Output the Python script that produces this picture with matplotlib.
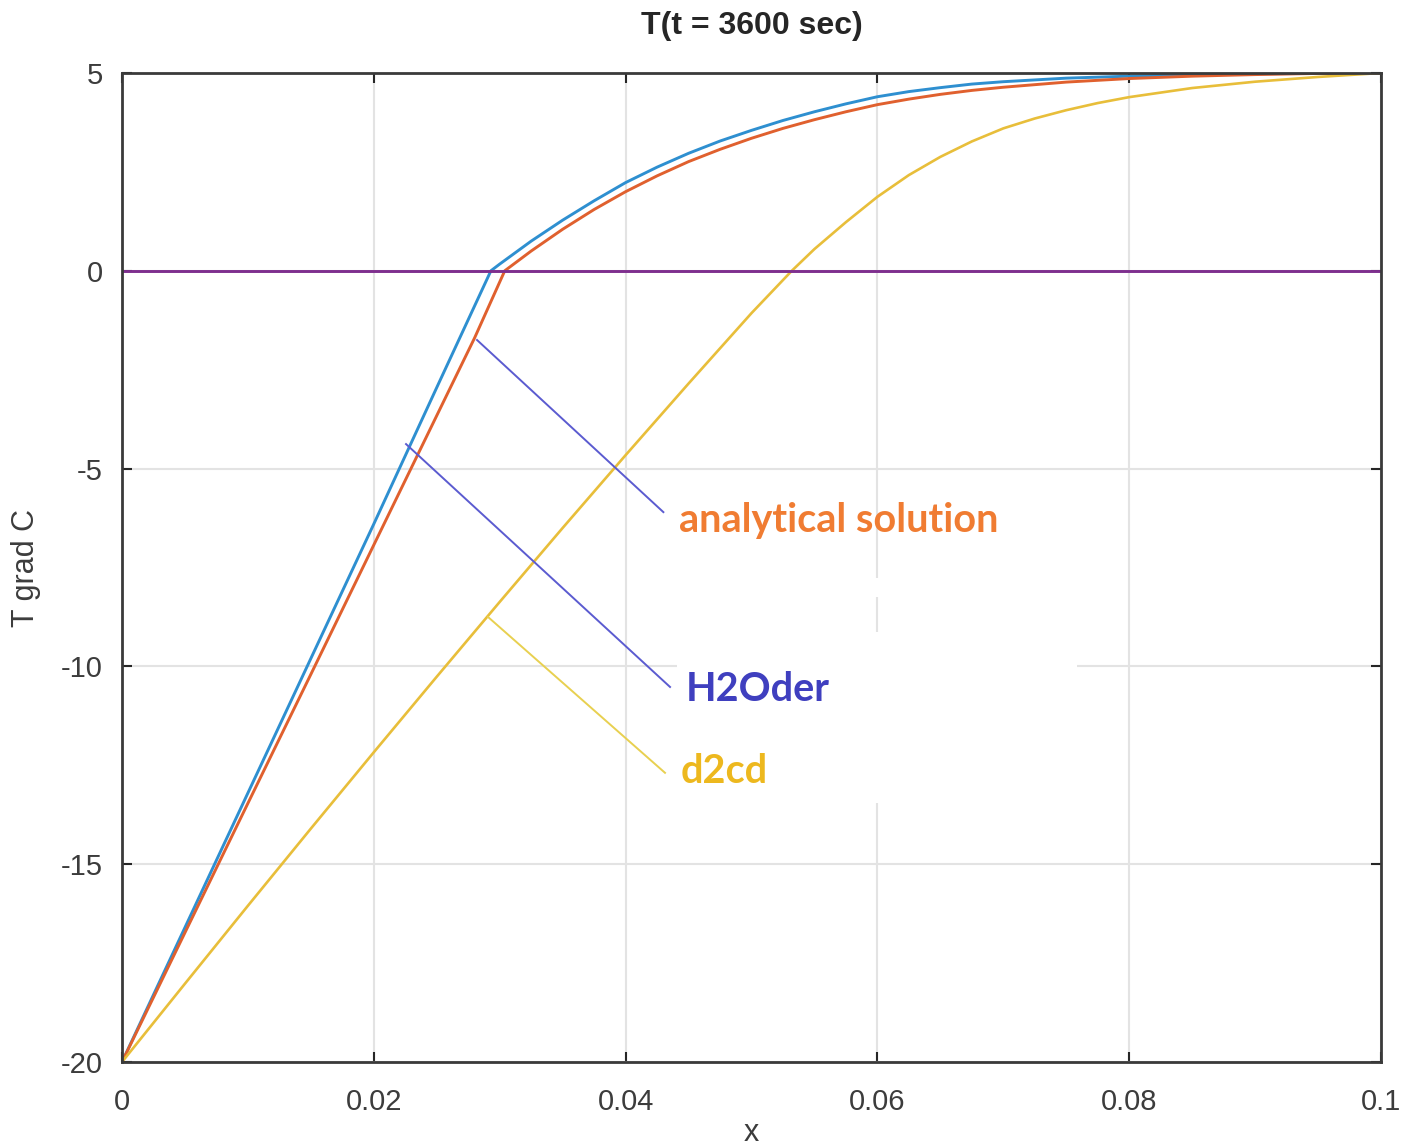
import matplotlib.pyplot as plt
from matplotlib.patches import Rectangle

plt.rcParams['axes.unicode_minus'] = False

# temperature profiles along x at t = 3600 s
x_num = [0, 0.005, 0.01, 0.015, 0.02, 0.025, 0.0293, 0.03, 0.0325, 0.035, 0.0375,
         0.04, 0.0425, 0.045, 0.0475, 0.05, 0.0525, 0.055, 0.0575, 0.06, 0.0625,
         0.065, 0.0675, 0.07, 0.075, 0.08, 0.085, 0.09, 0.095, 0.1]
T_h2oder = [-20, -16.6, -13.2, -9.8, -6.4, -2.95, 0, 0.17, 0.75, 1.28, 1.77,
            2.23, 2.62, 2.97, 3.28, 3.55, 3.8, 4.02, 4.22, 4.4, 4.53,
            4.63, 4.72, 4.78, 4.87, 4.92, 4.96, 4.98, 4.99, 5.0]

x_ana = [0, 0.005, 0.01, 0.015, 0.02, 0.025, 0.028, 0.0304, 0.0325, 0.035, 0.0375,
         0.04, 0.0425, 0.045, 0.0475, 0.05, 0.0525, 0.055, 0.0575, 0.06, 0.0625,
         0.065, 0.0675, 0.07, 0.075, 0.08, 0.085, 0.09, 0.095, 0.1]
T_ana = [-20, -16.73, -13.46, -10.2, -6.93, -3.66, -1.7, 0, 0.5, 1.05, 1.55,
         2.0, 2.4, 2.76, 3.07, 3.35, 3.6, 3.82, 4.02, 4.2, 4.34,
         4.46, 4.56, 4.64, 4.77, 4.86, 4.92, 4.96, 4.99, 5.0]

x_d2cd = [0, 0.005, 0.01, 0.015, 0.02, 0.025, 0.03, 0.035, 0.04, 0.045, 0.05,
          0.0532, 0.055, 0.0575, 0.06, 0.0625, 0.065, 0.0675, 0.07, 0.0725, 0.075,
          0.0775, 0.08, 0.085, 0.09, 0.095, 0.1]
T_d2cd = [-20, -18.02, -16.05, -14.1, -12.17, -10.26, -8.37, -6.5, -4.66, -2.85, -1.07,
          0, 0.55, 1.23, 1.87, 2.42, 2.88, 3.27, 3.6, 3.85, 4.06,
          4.24, 4.39, 4.62, 4.78, 4.9, 5.0]

x_zero = [0, 0.1]
T_zero = [0, 0]

# callout lines: (point on curve) -> (label end)
callouts = {
    "analytical solution": ([0.0282, 0.0430], [-1.75, -6.10]),
    "H2Oder": ([0.02256, 0.04353], [-4.38, -10.52]),
    "d2cd": ([0.02907, 0.04313], [-8.75, -12.69]),
}
label_pos = {
    "analytical solution": (0.04425, -6.3),
    "H2Oder": (0.04475, -10.58),
    "d2cd": (0.04435, -12.65),
}
label_color = {
    "analytical solution": "#F07C32",
    "H2Oder": "#3F3FBF",
    "d2cd": "#EDB81E",
}
line_color = {
    "analytical solution": "#5B5BD0",
    "H2Oder": "#5B5BD0",
    "d2cd": "#E8D050",
}

fig = plt.figure(figsize=(14.03, 11.48), dpi=100)
ax = fig.add_axes([0.08696, 0.07491, 0.89736, 0.8615])

ax.plot(x_num, T_h2oder, color="#2E8FD0", lw=2.1, zorder=4)
ax.plot(x_ana, T_ana, color="#E0602E", lw=2.1, zorder=4)
ax.plot(x_d2cd, T_d2cd, color="#E8BE3A", lw=1.9, zorder=4)
ax.plot(x_zero, T_zero, color="#7E2F8E", lw=2.1, zorder=4)

# pasted label area hides the grid behind it
ax.add_patch(Rectangle((0.04408, -13.45), 0.03177, 4.32, facecolor="white",
                       edgecolor="none", zorder=2))
ax.add_patch(Rectangle((0.0595, -8.25), 0.001, 0.48, facecolor="white",
                       edgecolor="none", zorder=2))

for name, (xs, ys) in callouts.items():
    ax.plot(xs, ys, color=line_color[name], lw=1.4, zorder=5)
    lx, ly = label_pos[name]
    ax.text(lx, ly, name, color=label_color[name], fontsize=28.5,
            fontweight="bold", family="Lato", va="center", ha="left", zorder=6)

ax.set_xlim(0, 0.1)
ax.set_ylim(-20, 5)
ax.set_xticks([0, 0.02, 0.04, 0.06, 0.08, 0.1])
ax.set_xticklabels(["0", "0.02", "0.04", "0.06", "0.08", "0.1"])
ax.set_yticks([-20, -15, -10, -5, 0, 5])
ax.grid(True, color="#E3E3E3", lw=1.5, zorder=1)
ax.set_axisbelow(True)

ax.tick_params(direction="in", length=7, width=1.5, colors="#262626",
               labelsize=21, labelcolor="#3C3C3C", top=True, right=True)
ax.tick_params(axis="x", pad=19)
ax.tick_params(axis="y", pad=14)
for lab in ax.get_xticklabels() + ax.get_yticklabels():
    lab.set_family("Liberation Sans")
for sp in ax.spines.values():
    sp.set_linewidth(2)
    sp.set_color("#3A3A3A")
    sp.set_zorder(7)

ax.set_title("T(t = 3600 sec)", fontsize=23, fontweight="bold", color="#262626",
             family="Liberation Sans", pad=28)
ax.set_xlabel("x", fontsize=22, color="#3C3C3C", family="Liberation Sans", labelpad=1)
ax.set_ylabel("T grad C", fontsize=22, color="#3C3C3C", family="Liberation Sans",
              labelpad=14)

fig.savefig("out.png", dpi=100, facecolor="white")
